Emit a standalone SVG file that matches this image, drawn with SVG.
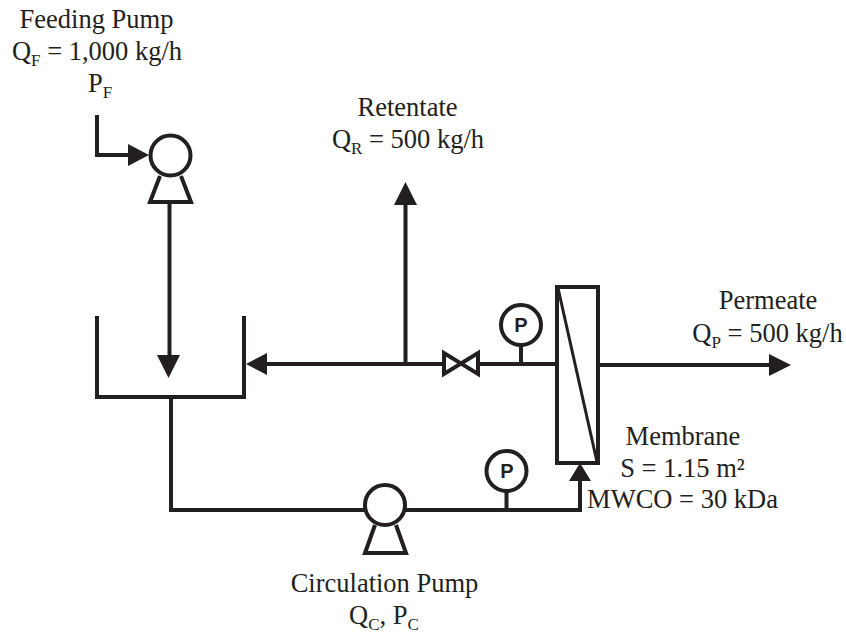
<svg xmlns="http://www.w3.org/2000/svg" width="846" height="635" viewBox="0 0 846 635">
<style>
.l{fill:none;stroke:#231f20;stroke-width:4}
.n{fill:#fff;stroke:#231f20;stroke-width:4}
.d{fill:none;stroke:#231f20;stroke-width:3}
.a{fill:#231f20;stroke:none}
.t{font-family:"Liberation Serif","Times New Roman",serif;font-size:26.5px;fill:#231f20;text-anchor:middle}
.s{font-size:17px}
.g{font-family:"Liberation Sans",Arial,sans-serif;font-weight:bold;font-size:20px;fill:#231f20;text-anchor:middle}
</style>
<rect width="846" height="635" fill="#fff"/>
<g id="connectors">
<path class="l" d="M97 115V155H132"/>
<polygon class="a" points="128,144 149,155 128,166"/>
<path class="l" d="M169.500 204V358"/>
<polygon class="a" points="157,355 180,355 168.500,378"/>
<path class="l" d="M171 397V510H366M404 510H580V478"/>
<polygon class="a" points="569,481 591,481 580,463"/>
<path class="l" d="M263 364H443M479 364H557"/>
<polygon class="a" points="267,353 267,375 246,364"/>
<path class="l" d="M405.500 364V200"/>
<polygon class="a" points="394,205 417,205 405.500,182"/>
<path class="l" d="M598 365H772"/>
<polygon class="a" points="769,354 791,365 769,376"/>
<path class="l" d="M521 345V364M506.500 491V510"/>
</g>
<g id="feed-pump">
<path class="l" d="M160 176L150 202H191L181 176"/>
<circle class="n" cx="170.500" cy="155.500" r="20"/>
</g>
<g id="tank"><path class="l" d="M97 316V397H244V316"/></g>
<g id="circulation-pump">
<path class="l" d="M375 525L365 553H406L396 525"/>
<circle class="n" cx="385" cy="505" r="20"/>
</g>
<g id="valve"><path class="l" d="M444 353V374L478 353V374Z"/></g>
<g id="gauge-top">
<circle class="n" cx="521" cy="325" r="20"/>
<text class="g" x="521" y="332">P</text>
</g>
<g id="gauge-bottom">
<circle class="n" cx="506.500" cy="471" r="20"/>
<text class="g" x="507" y="478">P</text>
</g>
<g id="membrane">
<rect class="n" x="557" y="287" width="41" height="176"/>
<path class="d" d="M558 288L597 462"/>
</g>
<g id="label-feed">
<text class="t" x="96.500" y="28">Feeding Pump</text>
<text class="t" x="97" y="60">Q<tspan class="s" dy="6">F</tspan><tspan dy="-6"> = 1,000 kg/h</tspan></text>
<text class="t" x="100" y="92">P<tspan class="s" dy="6">F</tspan></text>
</g>
<g id="label-retentate">
<text class="t" x="407.500" y="116">Retentate</text>
<text class="t" x="408" y="148">Q<tspan class="s" dy="6">R</tspan><tspan dy="-6"> = 500 kg/h</tspan></text>
</g>
<g id="label-permeate">
<text class="t" x="768" y="309">Permeate</text>
<text class="t" x="767.500" y="342">Q<tspan class="s" dy="6">P</tspan><tspan dy="-6"> = 500 kg/h</tspan></text>
</g>
<g id="label-membrane">
<text class="t" x="683" y="445">Membrane</text>
<text class="t" x="682.500" y="477">S = 1.15 m²</text>
<text class="t" x="682.500" y="508">MWCO = 30 kDa</text>
</g>
<g id="label-circulation">
<text class="t" x="384.500" y="592">Circulation Pump</text>
<text class="t" x="384" y="624">Q<tspan class="s" dy="6">C</tspan><tspan dy="-6">, P</tspan><tspan class="s" dy="6">C</tspan></text>
</g>
</svg>
